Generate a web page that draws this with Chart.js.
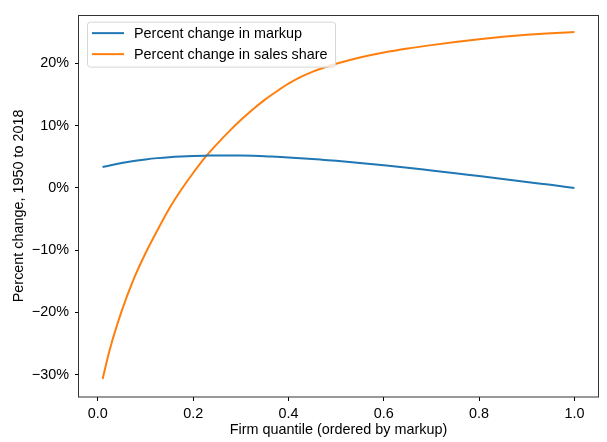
<!DOCTYPE html>
<html>
<head>
<meta charset="utf-8">
<script src="https://cdn.jsdelivr.net/npm/chart.js@4"></script>
<style>
  html, body { margin: 0; padding: 0; background: #fff; }
  #wrap { width: 607px; height: 442px; position: relative; }
</style>
</head>
<body>
<div id="wrap"><canvas id="c" width="607" height="442"></canvas></div>
<script>
// Data
const quantiles = [0.01, 0.025, 0.05, 0.075, 0.1, 0.125, 0.15, 0.175, 0.2, 0.225, 0.25, 0.275, 0.3, 0.325, 0.35, 0.375, 0.4, 0.425, 0.45, 0.475, 0.5, 0.55, 0.6, 0.65, 0.7, 0.75, 0.8, 0.85, 0.9, 0.95, 1.0];
const markupChange = [3.35, 3.62, 4.0, 4.32, 4.58, 4.79, 4.95, 5.06, 5.14, 5.19, 5.22, 5.22, 5.2, 5.16, 5.1, 5.0, 4.9, 4.78, 4.65, 4.5, 4.35, 4.0, 3.65, 3.25, 2.8, 2.35, 1.9, 1.45, 0.95, 0.5, 0.0];
const salesShareChange = [-30.7, -26.0, -19.8, -14.7, -10.5, -6.8, -3.3, -0.3, 2.4, 4.9, 7.05, 9.05, 10.9, 12.6, 14.15, 15.5, 16.75, 17.8, 18.65, 19.35, 19.95, 20.95, 21.75, 22.4, 22.95, 23.45, 23.9, 24.28, 24.6, 24.85, 25.05];
const seriesNames = ["Percent change in markup", "Percent change in sales share"];
const xTicks = [0.0, 0.2, 0.4, 0.6, 0.8, 1.0];
const yTicks = [-30, -20, -10, 0, 10, 20];
const xTitle = "Firm quantile (ordered by markup)";
const yTitle = "Percent change, 1950 to 2018";

const FONT = "'Liberation Sans', Arial, sans-serif";
const FS = 14.4;
const colors = ["#1f77b4", "#ff7f0e"];

function pts(xs, ys) { return xs.map((x, i) => ({ x: x, y: ys[i] })); }

const framePlugin = {
  id: 'frame',
  afterDatasetsDraw(chart) {
    const { ctx, chartArea: a } = chart;
    ctx.save();
    ctx.strokeStyle = '#333';
    ctx.lineWidth = 1;
    ctx.strokeRect(Math.round(a.left) - 0.5, Math.round(a.top) + 0.5, Math.round(a.right - a.left) + 1, Math.round(a.bottom - a.top) - 0.5);
    ctx.restore();
  }
};

const legendPlugin = {
  id: 'innerLegend',
  afterDraw(chart) {
    const { ctx, chartArea: a } = chart;
    const x0 = a.left + 8, y0 = a.top + 7.5, w = 248, h = 45;
    ctx.save();
    ctx.beginPath();
    ctx.roundRect(x0 + 0.5, y0, w, h, 3);
    ctx.fillStyle = 'rgba(255,255,255,0.8)';
    ctx.fill();
    ctx.strokeStyle = '#d6d6d6';
    ctx.lineWidth = 1;
    ctx.stroke();
    ctx.font = FS + 'px ' + FONT;
    ctx.textBaseline = 'middle';
    chart.data.datasets.forEach((ds, i) => {
      const yy = y0 + 11 + i * 21;
      ctx.strokeStyle = ds.borderColor;
      ctx.lineWidth = 2;
      ctx.beginPath();
      ctx.moveTo(x0 + 5, yy);
      ctx.lineTo(x0 + 37, yy);
      ctx.stroke();
      ctx.fillStyle = '#000';
      ctx.fillText(ds.label, x0 + 47, yy + 0.5);
    });
    ctx.restore();
  }
};

new Chart(document.getElementById('c'), {
  type: 'line',
  data: {
    datasets: [
      { label: seriesNames[0], data: pts(quantiles, markupChange), borderColor: colors[0], backgroundColor: colors[0], borderWidth: 2, pointRadius: 0, cubicInterpolationMode: 'monotone', fill: false },
      { label: seriesNames[1], data: pts(quantiles, salesShareChange), borderColor: colors[1], backgroundColor: colors[1], borderWidth: 2, pointRadius: 0, cubicInterpolationMode: 'monotone', fill: false }
    ]
  },
  options: {
    responsive: false,
    animation: false,
    devicePixelRatio: 1,
    layout: { padding: { top: 10, right: 9, left: 0, bottom: 0 } },
    plugins: { legend: { display: false }, tooltip: { enabled: false } },
    scales: {
      x: {
        type: 'linear',
        min: -0.0395, max: 1.0495,
        afterBuildTicks(s) { s.ticks = xTicks.map(v => ({ value: v })); },
        afterFit(s) { s.height = 45; },
        grid: { drawOnChartArea: false, drawTicks: true, tickLength: 4, tickColor: '#000', tickWidth: 1 },
        border: { display: false },
        ticks: { color: '#000', font: { family: FONT, size: FS }, padding: 4, maxRotation: 0, autoSkip: false,
          callback: v => v.toFixed(1) },
        title: { display: true, text: xTitle, color: '#000', font: { family: FONT, size: FS }, padding: { top: 0, bottom: 3 } }
      },
      y: {
        type: 'linear',
        min: -33.6, max: 27.85,
        afterBuildTicks(s) { s.ticks = yTicks.map(v => ({ value: v })); },
        afterFit(s) { s.width = 79; },
        grid: { drawOnChartArea: false, drawTicks: true, tickLength: 4, tickColor: '#000', tickWidth: 1 },
        border: { display: false },
        ticks: { color: '#000', font: { family: FONT, size: FS }, padding: 6, autoSkip: false,
          callback: v => (v < 0 ? '\u2212' + Math.abs(v) : String(v)) + '%' },
        title: { display: true, text: yTitle, color: '#000', font: { family: FONT, size: FS }, padding: { top: 10, bottom: 0 } }
      }
    }
  },
  plugins: [framePlugin, legendPlugin]
});
</script>
</body>
</html>
